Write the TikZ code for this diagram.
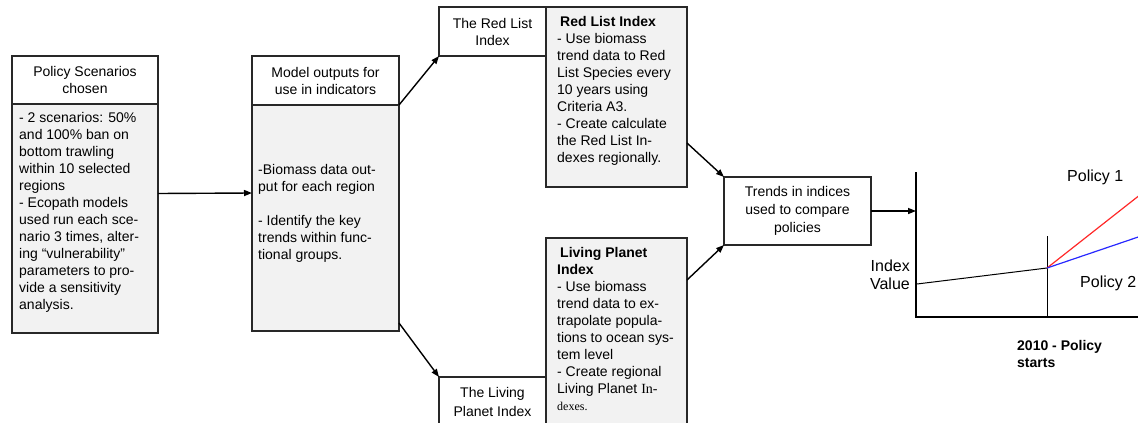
\documentclass[tikz,border=0pt]{standalone}
\usepackage{fontspec}
\setmainfont{Liberation Sans}
\newfontfamily\serifx{Liberation Serif}
\usetikzlibrary{arrows.meta}
\definecolor{bodyfill}{RGB}{242,242,242}
\definecolor{edge}{RGB}{40,40,40}
\definecolor{polred}{RGB}{255,40,40}
\definecolor{polblue}{RGB}{40,40,255}
\begin{document}
\begin{tikzpicture}[x=1pt,y=-1pt,
  boxbase/.style={draw=edge, line width=1.1pt, inner sep=0pt, outer sep=0pt, rectangle},
  hdr/.style={boxbase, fill=white, align=center, font=\fontsize{14}{17}\selectfont},
  bodybox/.style={boxbase, fill=bodyfill},
  bodytext/.style={anchor=north west, inner sep=0pt, align=left, font=\fontsize{14}{17}\selectfont},
  arr/.style={-{Triangle[length=8pt,width=6pt]}, line width=1.4pt, black},
  chartlbl/.style={inner sep=0pt, font=\fontsize{16}{18}\selectfont}
]
\useasboundingbox (0,0) rectangle (1138,423);

% Policy scenarios
\node[hdr, minimum width=146pt, minimum height=48pt] (b1hdr) at (85,80) {Policy Scenarios\\chosen};
\node[bodybox, minimum width=146pt, minimum height=229pt] (b1body) at (85,218.5) {};
\node[bodytext] (b1text) at (19,112) {- 2 scenarios: 50\%\\and 100\% ban on\\bottom trawling\\within 10 selected\\regions\\- Ecopath models\\used run each sce-\\nario 3 times, alter-\\ing “vulnerability”\\parameters to pro-\\vide a sensitivity\\analysis.};

% Model outputs
\node[hdr, minimum width=147pt, minimum height=49pt] (b2hdr) at (325.5,80.5) {Model outputs for\\use in indicators};
\node[bodybox, minimum width=147pt, minimum height=226pt] (b2body) at (325.5,218) {};
\node[bodytext] (b2text) at (258,164) {-Biomass data out-\\put for each region\\[17pt]- Identify the key\\trends within func-\\tional groups.};

% Red List
\node[hdr, minimum width=107pt, minimum height=49pt] (rlhdr) at (492.5,31.5) {The Red List\\Index};
\node[bodybox, minimum width=141pt, minimum height=180pt] (rlbody) at (616.5,97) {};
\node[bodytext] (rltext) at (557,16) {\hspace{3pt}\textbf{Red List Index}\\- Use biomass\\trend data to Red\\List Species every\\10 years using\\Criteria A3.\\- Create calculate\\the Red List In-\\dexes regionally.};

% Living Planet
\node[bodybox, minimum width=141pt, minimum height=192pt] (lpbody) at (616.5,334) {};
\node[bodytext] (lptext) at (557,247) {\hspace{3pt}\textbf{Living Planet}\\\textbf{Index}\\- Use biomass\\trend data to ex-\\trapolate popula-\\tions to ocean sys-\\tem level\\- Create regional\\Living Planet {\serifx In-}\\{\serifx\fontsize{12}{19}\selectfont dexes.}};
\node[hdr, minimum width=107pt, minimum height=53pt] (lphdr) at (492.5,403.5) {};
\node[inner sep=0pt, align=center, font=\fontsize{14}{19}\selectfont] (lphdrtext) at (492.5,402) {The Living\\Planet Index};

% Trends
\node[hdr, minimum width=147pt, minimum height=68pt, font=\fontsize{14}{18}\selectfont] (trends) at (797.5,211) {Trends in indices\\used to compare\\policies};

% Connectors
\draw[arr] ([yshift=25pt]b1body.east) -- ([yshift=25pt]b2body.west);
\draw[arr] (b2hdr.south east) -- (rlhdr.south west);
\draw[arr] ([yshift=8pt]b2body.south east) -- (lphdr.north west);
\draw[arr] ([yshift=-46pt]rlbody.east) -- (trends.north west);
\draw[arr] ([yshift=-42pt]lpbody.north east) -- (trends.south west);

% Chart
\coordinate (axtop) at (916,172);
\coordinate (axorig) at (916,317);
\coordinate (axend) at (1150,317);
\coordinate (axin) at (916,211);
\coordinate (ptop) at (1047,236);
\coordinate (pbot) at (1047,317);
\coordinate (start) at (917,284);
\coordinate (pivot) at (1047,268);
\coordinate (redend) at (1150,187);
\coordinate (blueend) at (1150,233);
\draw[arr] (trends.east) -- (axin);
\draw[line width=2.2pt, black] (axtop) -- (axorig) -- (axend);
\draw[line width=1pt, black] (ptop) -- (pbot);
\draw[line width=1pt, black] (start) -- (pivot);
\draw[line width=1.2pt, polred] (pivot) -- (redend);
\draw[line width=1.2pt, polblue] (pivot) -- (blueend);

\node[chartlbl, anchor=east, align=right] (ival) at (910,275) {Index\\Value};
\node[chartlbl, anchor=west] (pol1) at (1067,177) {Policy 1};
\node[chartlbl, anchor=west] (pol2) at (1080,283) {Policy 2};
\node[anchor=north west, inner sep=0pt, align=left, font=\fontsize{14}{17}\selectfont\bfseries] (yr) at (1017,340) {2010 - Policy\\starts};
\end{tikzpicture}
\end{document}
